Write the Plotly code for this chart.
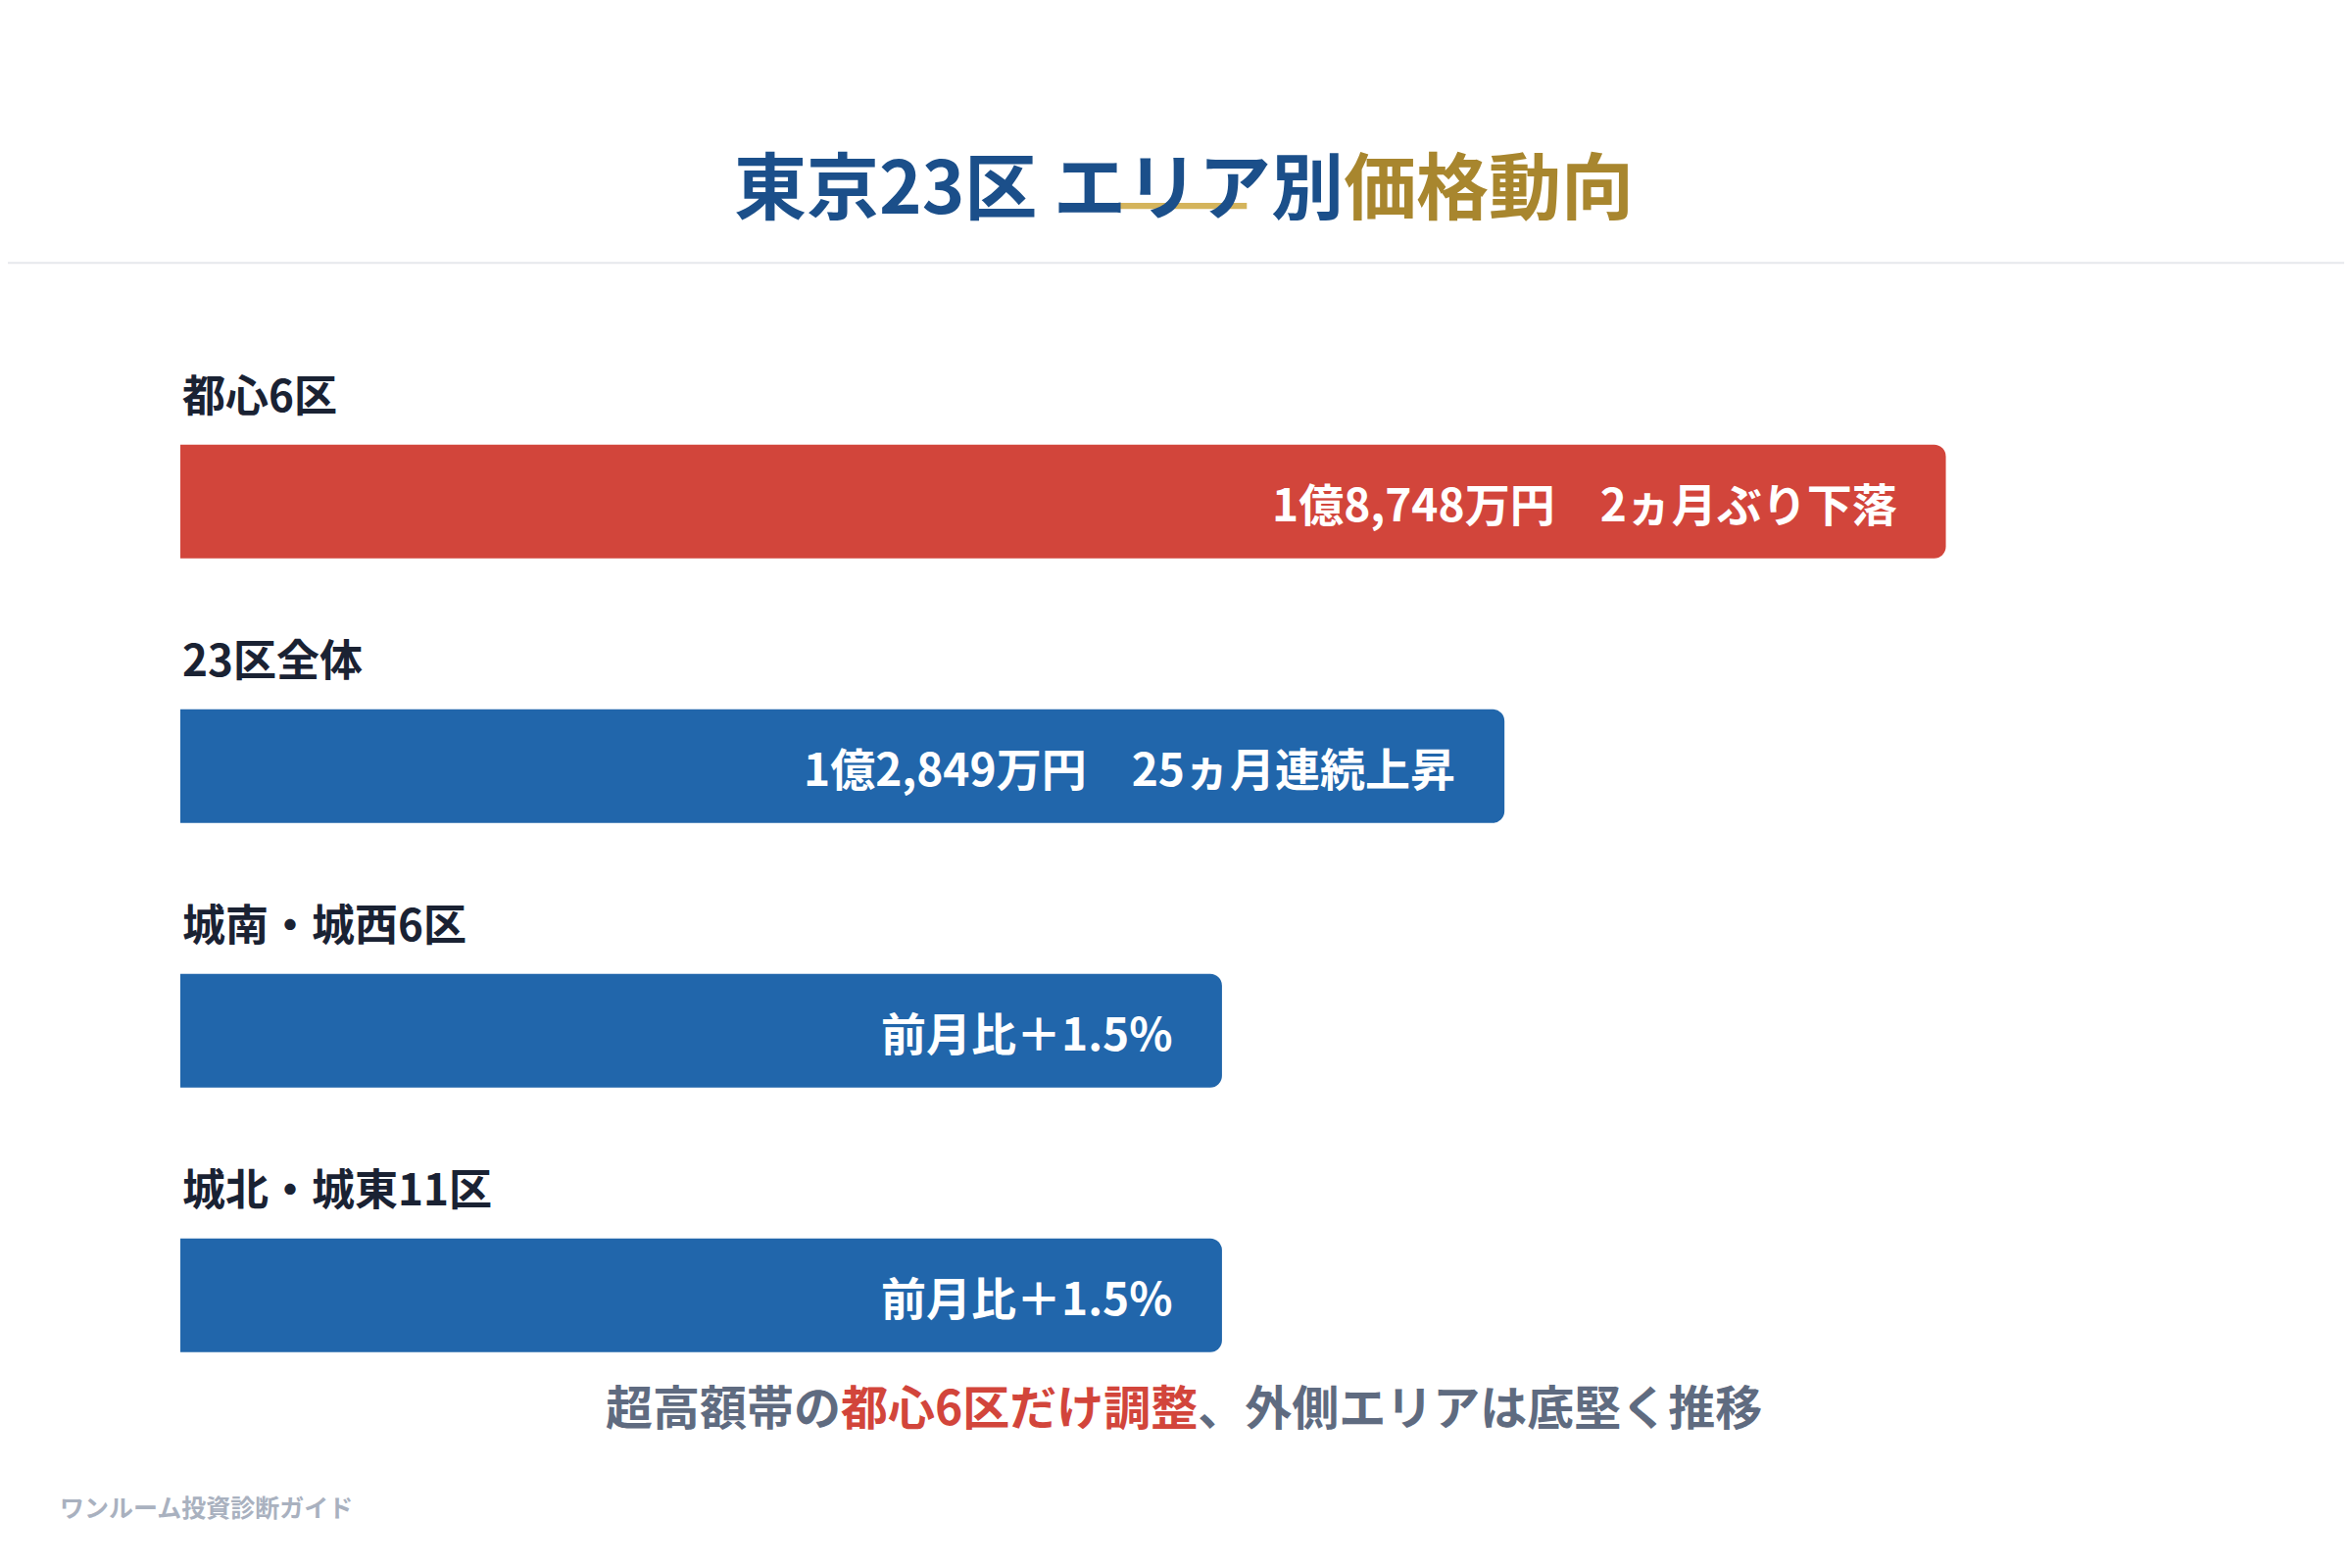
import plotly.graph_objects as go

areas = ["都心6区", "23区全体", "城南・城西6区", "城北・城東11区"]
bar_len = [100, 75, 59, 59]          # relative bar length as drawn
bar_text = ["1億8,748万円　2ヵ月ぶり下落", "1億2,849万円　25ヵ月連続上昇", "前月比＋1.5%", "前月比＋1.5%"]
bar_colors = ["#D2453B", "#2166AB", "#2166AB", "#2166AB"]

FONT = "Noto Sans CJK JP"
W, H = 2400, 1600
pos = list(range(len(areas)))

fig = go.Figure(go.Bar(
    x=bar_len, y=pos, orientation="h", width=0.43,
    marker=dict(color=bar_colors, cornerradius=12, line_width=0),
    hoverinfo="skip",
))

ann = []
for i, (a, v, t) in enumerate(zip(areas, bar_len, bar_text)):
    ann.append(dict(x=0, y=i - 0.41, xref="x", yref="y", text=f"<b>{a}</b>", showarrow=False,
                    xanchor="left", yanchor="middle", font=dict(family=FONT, size=44, color="#1A2233")))
    ann.append(dict(x=v, y=i, xref="x", yref="y", text=f"<b>{t}</b>", showarrow=False, xshift=-48,
                    xanchor="right", yanchor="middle", font=dict(family=FONT, size=46, color="white")))

ann.append(dict(x=0.5, y=1 - 80 / 1045, xref="paper", yref="paper", showarrow=False,
                text="<b>東京23区 エリア別<span style='color:#A8862E'>価格動向</span></b>",
                font=dict(family=FONT, size=74, color="#1B4F8A")))
ann.append(dict(x=0.5, y=1 - 955 / 1045, xref="paper", yref="paper", showarrow=False,
                text="<b>超高額帯の<span style='color:#D2453B'>都心6区だけ調整</span>、外側エリアは底堅く推移</b>",
                font=dict(family=FONT, size=48, color="#5F6B80")))
ann.append(dict(x=33 / 1568, y=1 - 1012 / 1045, xref="paper", yref="paper", showarrow=False,
                xanchor="left", text="<b>ワンルーム投資診断ガイド</b>",
                font=dict(family=FONT, size=25, color="#A9B1BF")))

fig.update_layout(
    width=W, height=H, margin=dict(l=0, r=0, t=0, b=0),
    paper_bgcolor="white", plot_bgcolor="white", showlegend=False,
    xaxis=dict(domain=[115 / 1568, 1], range=[0, 100 * (1568 - 115) / (1292 - 115)], visible=False),
    yaxis=dict(domain=[0, 1], range=[4.06, -1.866], visible=False),
    annotations=ann,
    shapes=[
        dict(type="rect", xref="paper", yref="paper", x0=741 / 1568, x1=826 / 1568,
             y0=1 - 134 / 1045, y1=1 - 130 / 1045, fillcolor="#D4B45C", line_width=0),
        dict(type="line", xref="paper", yref="paper", x0=0, x1=1,
             y0=1 - 170 / 1045, y1=1 - 170 / 1045, line=dict(color="#E6E8EC", width=2)),
    ],
)

fig.write_html("out.html")
